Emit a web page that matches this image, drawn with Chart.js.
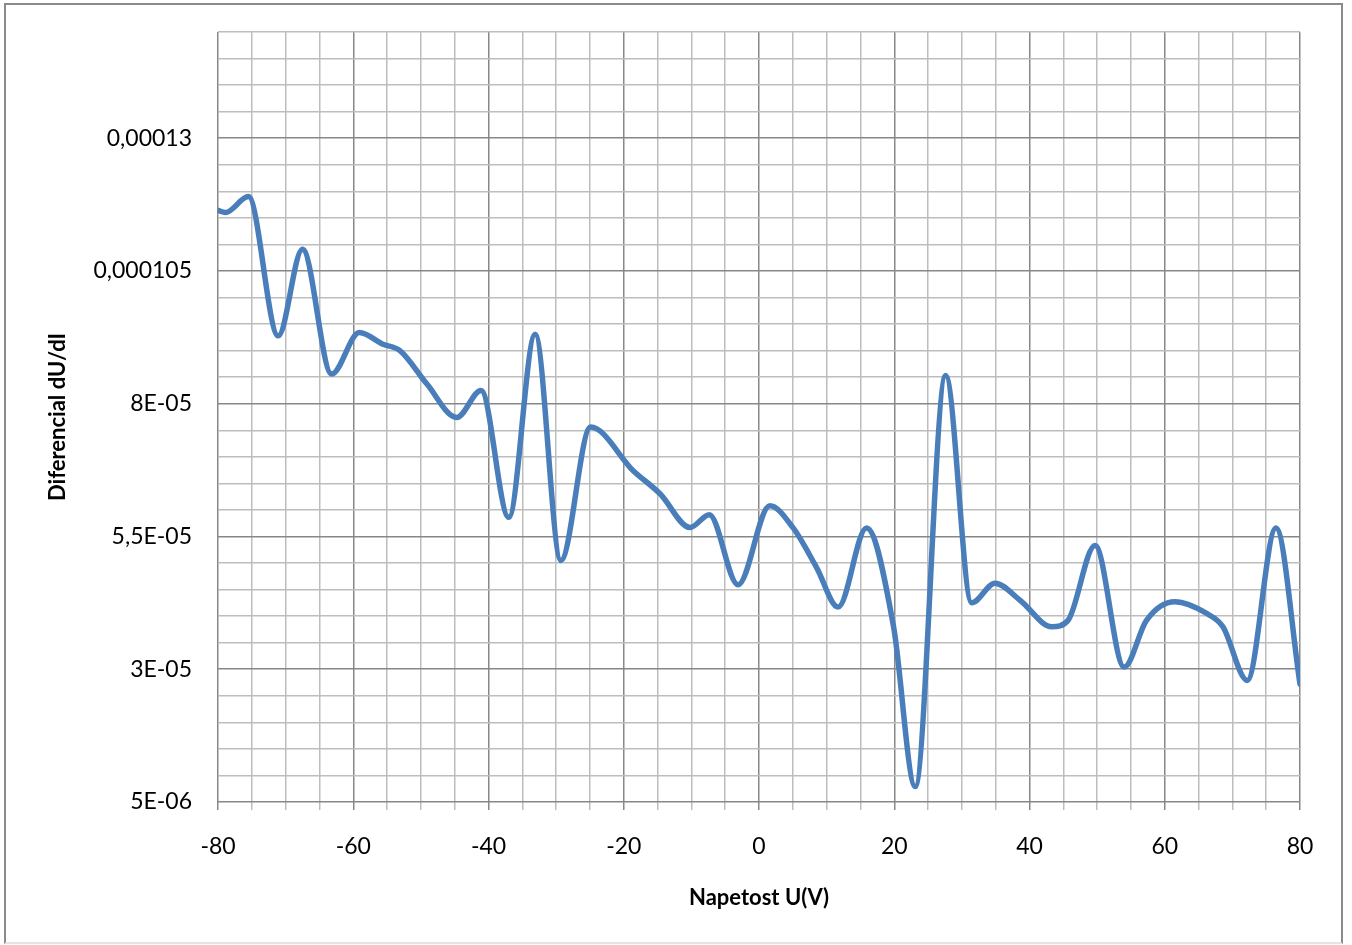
<!DOCTYPE html>
<html>
<head>
<meta charset="utf-8">
<script src="https://cdn.jsdelivr.net/npm/chart.js@4/dist/chart.umd.min.js"></script>
<style>
  html, body { margin: 0; padding: 0; background: #ffffff; }
  #frame {
    position: absolute; left: 4px; top: 3px; width: 1339px; height: 941px;
    box-sizing: border-box; border: 2px solid #8a8a8a; border-bottom-color: #e4e4e4;
  }
  #c { position: absolute; left: 0; top: 0; }
</style>
</head>
<body>
<div id="frame"></div>
<canvas id="c" width="1352" height="945"></canvas>
<script>
// ---- data ----
const voltage = [
  -80.0, -78.9, -75.5, -71.1, -67.5, -63.2, -59.1, -55.6, -53.1, -49.1,
  -44.7, -41.1, -37.0, -33.1, -29.3, -24.9, -18.6, -14.6, -10.2, -7.35,
  -3.1, 1.6, 5.0, 8.5, 11.7, 15.9, 19.9, 23.1, 27.6, 31.45,
  34.9, 38.6, 43.3, 45.7, 49.7, 54.0, 57.3, 61.5, 66.2, 68.6,
  72.2, 76.45, 80.0
];
const dUdI = [
  0.0001164, 0.0001160, 0.0001190, 0.0000928, 0.0001091, 0.0000856, 0.0000934, 0.0000912, 0.0000900, 0.0000837,
  0.0000774, 0.0000825, 0.0000586, 0.0000931, 0.0000505, 0.0000756, 0.0000674, 0.0000630, 0.0000567, 0.0000591,
  0.0000459, 0.0000608, 0.0000567, 0.0000492, 0.0000417, 0.0000566, 0.0000380, 0.0000079, 0.0000853, 0.0000425,
  0.0000462, 0.0000430, 0.0000380, 0.0000392, 0.0000533, 0.0000304, 0.0000392, 0.0000427, 0.0000405, 0.0000380,
  0.0000279, 0.0000566, 0.0000272
];
const xTickLabels = ['-80', '-60', '-40', '-20', '0', '20', '40', '60', '80'];
const yTickLabels = ['5E-06', '3E-05', '5,5E-05', '8E-05', '0,000105', '0,00013'];
const xTitle = 'Napetost U(V)';
const yTitle = 'Diferencial dU/dI';

// ---- axis settings ----
const xMin = -80, xMax = 80, xMinorStep = 5, xMajorEvery = 4;
const yMin = 0.000005, yMax = 0.00015, yMinorStep = 0.000005, yMajorEvery = 5;

const majorColor = '#878787';
const minorColor = '#bdbdbd';
const FONT = 'Lato, "Liberation Sans", sans-serif';

const points = voltage.map((v, i) => ({ x: v, y: dUdI[i] }));

new Chart(document.getElementById('c'), {
  type: 'line',
  data: {
    datasets: [{
      data: points,
      borderColor: '#4a7ebb',
      borderWidth: 5.5,
      pointRadius: 0,
      fill: false,
      cubicInterpolationMode: 'monotone',
      borderCapStyle: 'round',
      borderJoinStyle: 'round'
    }]
  },
  options: {
    responsive: false,
    devicePixelRatio: 1,
    animation: false,
    layout: { padding: { top: 32, right: 52, left: 0, bottom: 0 } },
    plugins: { legend: { display: false }, tooltip: { enabled: false } },
    scales: {
      x: {
        type: 'linear',
        min: xMin, max: xMax,
        afterBuildTicks: (s) => {
          const n = Math.round((xMax - xMin) / xMinorStep);
          s.ticks = Array.from({ length: n + 1 }, (_, i) => ({ value: xMin + i * xMinorStep }));
        },
        afterFit: (s) => { s.height = 143; },
        border: { display: false },
        grid: {
          color: (ctx) => (ctx.index % xMajorEvery === 0 ? majorColor : minorColor),
          lineWidth: 1.5,
          drawTicks: true,
          tickLength: 8
        },
        ticks: {
          autoSkip: false,
          maxRotation: 0,
          padding: 23,
          color: '#000000',
          font: { family: FONT, size: 23 },
          callback: (v, i) => (i % xMajorEvery === 0 ? xTickLabels[i / xMajorEvery] : '')
        },
        title: {
          display: true,
          text: xTitle,
          color: '#000000',
          font: { family: FONT, size: 22, weight: 'bold' },
          padding: { top: 0, bottom: 34 }
        }
      },
      y: {
        type: 'linear',
        min: yMin, max: yMax,
        afterBuildTicks: (s) => {
          const n = Math.round((yMax - yMin) / yMinorStep);
          s.ticks = Array.from({ length: n + 1 }, (_, i) => ({ value: yMin + i * yMinorStep }));
        },
        afterFit: (s) => { s.width = 218; s.paddingTop = 0; s.paddingBottom = 0; },
        border: { display: false },
        grid: {
          color: (ctx) => (ctx.index % yMajorEvery === 0 ? majorColor : minorColor),
          lineWidth: 1.5,
          drawTicks: false
        },
        ticks: {
          autoSkip: false,
          padding: 26,
          color: '#000000',
          font: { family: FONT, size: 23 },
          callback: (v, i) => (i % yMajorEvery === 0 ? yTickLabels[i / yMajorEvery] : '')
        },
        title: {
          display: true,
          text: yTitle,
          color: '#000000',
          font: { family: FONT, size: 22, weight: 'bold' },
          padding: { top: 45, bottom: 0 }
        }
      }
    }
  }
});
</script>
</body>
</html>
